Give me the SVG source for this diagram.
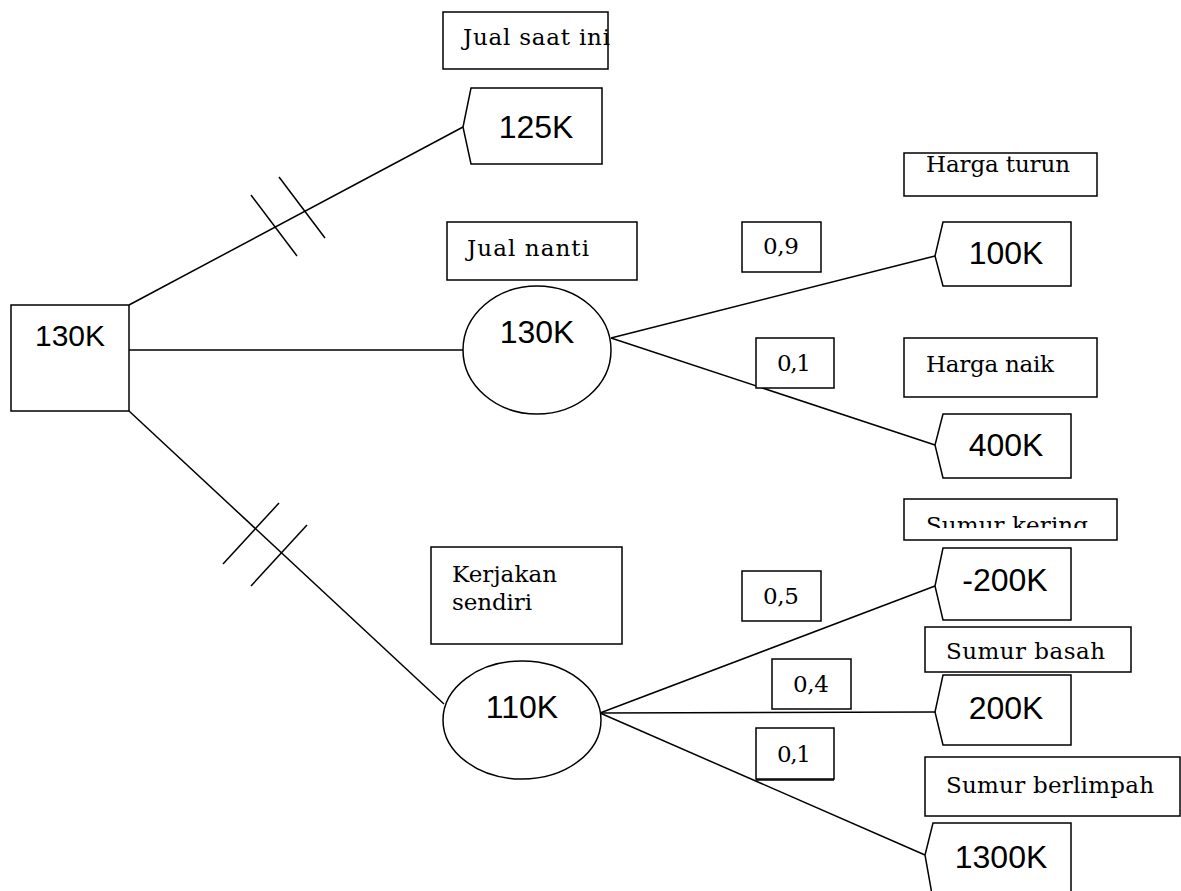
<svg xmlns="http://www.w3.org/2000/svg" width="1181" height="891" viewBox="0 0 1181 891">
<style>
.b{fill:#fff;stroke:#000;stroke-width:1.5}
.l{fill:none;stroke:#000;stroke-width:1.5}
.s{font-family:"DejaVu Serif","Liberation Serif",serif;font-size:23px;fill:#000}
.v{font-family:"Liberation Sans",Arial,sans-serif;font-size:32px;fill:#000;text-anchor:middle}
</style>
<defs>
<clipPath id="ck"><rect x="904" y="499" width="214" height="29"/></clipPath>
</defs>
<g id="connectors">
<line class="l" x1="129" y1="305" x2="463" y2="127"/>
<line class="l" x1="129" y1="350" x2="463" y2="350"/>
<line class="l" x1="129" y1="411" x2="444" y2="704"/>
<line class="l" x1="251" y1="195" x2="297" y2="256"/>
<line class="l" x1="279" y1="177" x2="325" y2="238"/>
<line class="l" x1="279" y1="503" x2="223" y2="564"/>
<line class="l" x1="307" y1="525" x2="251" y2="586"/>
<line class="l" x1="611" y1="338" x2="935" y2="256"/>
<line class="l" x1="611" y1="338" x2="935" y2="445"/>
<line class="l" x1="600" y1="713" x2="935" y2="586"/>
<line class="l" x1="600" y1="713" x2="935" y2="712"/>
<line class="l" x1="600" y1="713" x2="925" y2="855"/>
</g>
<g id="root">
<rect class="b" x="11" y="305" width="118" height="106"/>
<text class="v" x="70" y="346" style="font-size:30px">130K</text>
</g>
<g id="lbl-jual-saat-ini">
<rect class="b" x="443" y="12" width="165" height="57"/>
<text class="s" x="463" y="45" textLength="147">Jual saat ini</text>
</g>
<g id="leaf-125k">
<polygon class="b" points="471,88 602,88 602,164 471,164 463,127"/>
<text class="v" x="536" y="138">125K</text>
</g>
<g id="lbl-jual-nanti">
<rect class="b" x="447" y="222" width="190" height="58"/>
<text class="s" x="467" y="256" textLength="122">Jual nanti</text>
</g>
<g id="chance-130k">
<ellipse class="b" cx="537" cy="350" rx="74" ry="64"/>
<text class="v" x="537" y="343">130K</text>
</g>
<g id="p-09">
<rect class="b" x="742" y="222" width="79" height="50"/>
<text class="s" x="763" y="254" textLength="36">0,9</text>
</g>
<g id="lbl-harga-turun">
<rect class="b" x="904" y="153" width="193" height="43"/>
<text class="s" x="926" y="172" textLength="144">Harga turun</text>
</g>
<g id="leaf-100k">
<polygon class="b" points="943,222 1071,222 1071,286 943,286 935,256"/>
<text class="v" x="1006" y="264">100K</text>
</g>
<g id="p-01a">
<rect class="b" x="756" y="338" width="78" height="50"/>
<text class="s" x="777" y="371" textLength="34">0,1</text>
</g>
<g id="lbl-harga-naik">
<rect class="b" x="904" y="338" width="193" height="59"/>
<text class="s" x="926" y="372" textLength="128">Harga naik</text>
</g>
<g id="leaf-400k">
<polygon class="b" points="943,414 1071,414 1071,478 943,478 935,445"/>
<text class="v" x="1006" y="456">400K</text>
</g>
<g id="lbl-kerjakan">
<rect class="b" x="431" y="547" width="191" height="97"/>
<text class="s" x="452" y="582" textLength="105">Kerjakan</text>
<text class="s" x="452" y="610" textLength="80">sendiri</text>
</g>
<g id="chance-110k">
<ellipse class="b" cx="522" cy="720" rx="79" ry="59"/>
<text class="v" x="522" y="718">110K</text>
</g>
<g id="lbl-sumur-kering">
<rect class="b" x="904" y="499" width="213" height="41"/>
<text class="s" x="926" y="533" textLength="162" clip-path="url(#ck)">Sumur kering</text>
</g>
<g id="p-05">
<rect class="b" x="742" y="571" width="79" height="50"/>
<text class="s" x="763" y="604" textLength="36">0,5</text>
</g>
<g id="leaf-m200k">
<polygon class="b" points="943,548 1071,548 1071,620 943,620 935,586"/>
<text class="v" x="1005" y="591">-200K</text>
</g>
<g id="lbl-sumur-basah">
<rect class="b" x="925" y="627" width="206" height="45"/>
<text class="s" x="946" y="659" textLength="159">Sumur basah</text>
</g>
<g id="p-04">
<rect class="b" x="772" y="659" width="79" height="50"/>
<text class="s" x="793" y="692" textLength="36">0,4</text>
</g>
<g id="leaf-200k">
<polygon class="b" points="943,675 1071,675 1071,745 943,745 935,712"/>
<text class="v" x="1006" y="719">200K</text>
</g>
<g id="p-01b">
<rect class="b" x="756" y="728" width="78" height="51"/>
<line class="l" x1="756" y1="780" x2="834" y2="780"/>
<text class="s" x="777" y="762" textLength="34">0,1</text>
</g>
<g id="lbl-sumur-berlimpah">
<rect class="b" x="925" y="757" width="255" height="59"/>
<text class="s" x="946" y="793" textLength="208">Sumur berlimpah</text>
</g>
<g id="leaf-1300k">
<polygon class="b" points="933,823 1071,823 1071,900 933,900 925,855"/>
<text class="v" x="1001" y="868">1300K</text>
</g>
</svg>
